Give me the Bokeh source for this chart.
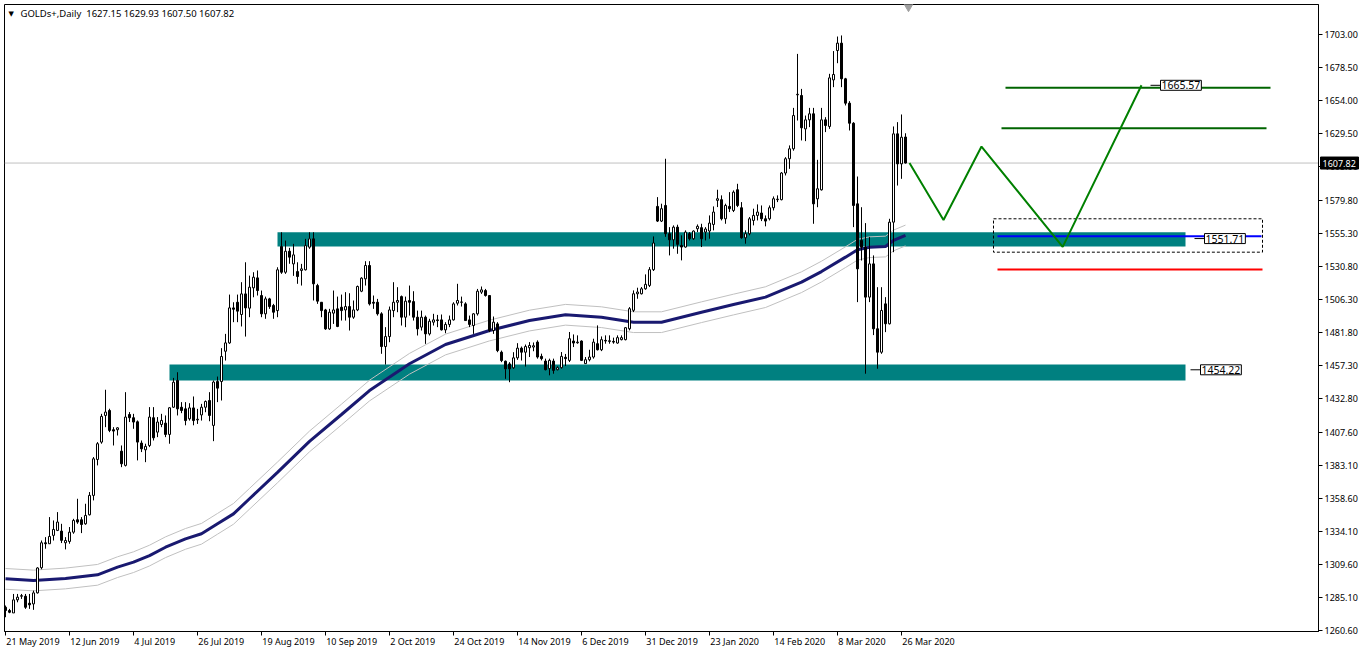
from bokeh.plotting import figure
from bokeh.models import Range1d, FixedTicker, NumeralTickFormatter, Span, Label, ColumnDataSource
from bokeh.embed import file_html
from bokeh.resources import INLINE
from bokeh.core.properties import value

FONT = "Noto Sans"

# ---------------- data (daily OHLC, bar index 0 = 21 May 2019) ----------------
open_ = [
    1277.8, 1275.4, 1273.6, 1283.3, 1286.0, 1286.0, 1280.8, 1280.3, 1288.5, 1307.2,
    1325.7, 1325.0, 1331.2, 1334.9, 1334.4, 1325.7, 1326.7, 1333.6, 1342.8, 1342.8,
    1339.8, 1346.5, 1360.9, 1387.6, 1400.5, 1420.3, 1424.0, 1409.7, 1409.7, 1393.8,
    1383.2, 1421.0, 1418.6, 1415.6, 1399.8, 1394.8, 1398.0, 1418.6, 1407.9, 1413.6,
    1414.6, 1406.2, 1426.4, 1446.3, 1426.4, 1425.2, 1417.8, 1425.9, 1417.0, 1420.7,
    1426.4, 1431.4, 1412.9, 1445.5, 1445.5, 1468.0, 1474.2, 1500.2, 1504.4, 1495.3,
    1510.6, 1500.0, 1515.1, 1522.5, 1509.4, 1495.8, 1506.9, 1502.0, 1498.2, 1545.8,
    1526.7, 1542.3, 1532.9, 1527.2, 1528.0, 1528.5, 1545.3, 1551.5, 1516.8, 1504.4,
    1498.7, 1484.6, 1496.3, 1499.5, 1500.7, 1498.7, 1501.2, 1493.3, 1498.7, 1512.6,
    1521.8, 1531.7, 1504.4, 1504.4, 1495.8, 1471.5, 1478.9, 1498.2, 1504.4, 1508.6,
    1493.3, 1505.7, 1504.9, 1493.3, 1485.9, 1493.3, 1480.9, 1489.6, 1491.3, 1491.3,
    1483.9, 1487.9, 1491.3, 1503.7, 1504.4, 1503.2, 1491.3, 1487.1, 1495.8, 1511.9,
    1513.1, 1509.4, 1483.4, 1488.3, 1467.3, 1460.6, 1458.6, 1455.7, 1463.1, 1470.3,
    1467.3, 1470.6, 1471.1, 1474.8, 1464.2, 1460.7, 1455.1, 1460.7, 1454.3, 1455.8,
    1463.5, 1461.2, 1475.6, 1474.3, 1475.6, 1458.8, 1461.7, 1463.7, 1473.6, 1469.1,
    1476.1, 1475.3, 1475.3, 1474.1, 1476.6, 1476.6, 1484.7, 1498.4, 1510.7, 1510.7,
    1514.4, 1516.9, 1528.6, 1575.6, 1564.7, 1576.3, 1555.3, 1550.8, 1560.2, 1546.6,
    1545.4, 1555.3, 1551.6, 1559.0, 1559.8, 1556.5, 1557.3, 1562.2, 1580.1, 1580.6,
    1566.4, 1575.6, 1572.6, 1588.0, 1574.6, 1552.3, 1555.3, 1565.2, 1568.9, 1570.7,
    1566.4, 1566.4, 1574.6, 1580.6, 1580.6, 1600.4, 1611.0, 1618.4, 1658.5, 1658.0,
    1633.2, 1639.9, 1644.4, 1581.2, 1587.9, 1639.9, 1635.0, 1669.6, 1691.4, 1696.9,
    1670.4, 1652.3, 1637.4, 1577.5, 1550.3, 1545.3, 1508.2, 1532.9, 1484.7, 1467.3,
    1503.2, 1488.4, 1563.9, 1629.5, 1607.2, 1627.15,
]
high = [
    1279.1, 1276.6, 1287.7, 1287.7, 1287.7, 1287.7, 1287.7, 1290.2, 1307.5, 1327.4,
    1329.9, 1344.8, 1342.3, 1348.5, 1339.8, 1329.9, 1337.4, 1343.5, 1358.4, 1344.8,
    1354.7, 1363.4, 1389.4, 1400.5, 1421.5, 1439.4, 1425.3, 1411.6, 1411.6, 1398.0,
    1437.6, 1422.8, 1421.5, 1416.6, 1401.7, 1399.3, 1426.5, 1426.5, 1419.1, 1421.5,
    1420.3, 1426.5, 1448.2, 1452.4, 1430.2, 1430.2, 1429.4, 1434.4, 1425.2, 1428.9,
    1431.4, 1437.6, 1446.3, 1449.2, 1470.3, 1480.9, 1510.1, 1504.4, 1510.1, 1519.3,
    1534.1, 1524.2, 1526.7, 1528.0, 1513.1, 1508.6, 1507.7, 1503.2, 1530.4, 1556.4,
    1550.2, 1544.8, 1547.8, 1534.1, 1532.9, 1551.5, 1556.4, 1556.4, 1518.1, 1504.4,
    1499.5, 1499.5, 1513.1, 1508.6, 1510.1, 1511.9, 1511.1, 1505.7, 1516.8, 1523.0,
    1534.9, 1534.9, 1509.4, 1506.9, 1497.0, 1485.9, 1501.2, 1519.3, 1515.6, 1509.4,
    1508.6, 1516.8, 1512.6, 1498.2, 1498.2, 1494.5, 1492.1, 1495.8, 1495.0, 1495.3,
    1489.6, 1494.5, 1504.4, 1518.1, 1508.6, 1504.4, 1494.5, 1496.3, 1514.3, 1516.1,
    1514.3, 1509.4, 1493.8, 1489.6, 1468.5, 1461.1, 1459.9, 1467.3, 1474.0, 1471.5,
    1473.0, 1474.8, 1474.5, 1476.1, 1466.2, 1462.5, 1462.5, 1462.5, 1456.8, 1467.4,
    1466.0, 1482.3, 1480.5, 1479.8, 1476.1, 1463.7, 1469.1, 1477.3, 1487.2, 1479.0,
    1479.8, 1479.8, 1478.1, 1479.8, 1479.8, 1486.0, 1500.8, 1513.2, 1515.2, 1515.7,
    1525.1, 1530.5, 1553.3, 1582.5, 1577.6, 1611.0, 1560.2, 1561.5, 1562.0, 1554.1,
    1557.8, 1556.5, 1557.8, 1562.2, 1562.7, 1560.2, 1568.9, 1575.6, 1588.0, 1583.8,
    1577.6, 1586.2, 1587.5, 1592.4, 1578.8, 1557.8, 1567.7, 1573.9, 1577.1, 1576.3,
    1568.9, 1576.3, 1583.0, 1583.8, 1601.1, 1612.2, 1620.9, 1648.8, 1688.9, 1662.9,
    1643.1, 1648.8, 1648.8, 1610.2, 1648.8, 1641.9, 1674.1, 1691.0, 1701.8, 1702.6,
    1671.1, 1653.8, 1638.2, 1597.8, 1575.0, 1563.2, 1552.8, 1539.2, 1515.6, 1515.6,
    1508.2, 1566.4, 1635.0, 1638.2, 1643.9, 1629.93,
]
low = [
    1270.4, 1273.4, 1273.6, 1281.5, 1284.0, 1276.6, 1276.6, 1275.9, 1288.0, 1306.0,
    1321.3, 1325.0, 1327.4, 1334.4, 1325.5, 1320.8, 1325.0, 1332.4, 1339.8, 1332.9,
    1339.1, 1346.0, 1357.2, 1383.2, 1399.3, 1411.6, 1407.9, 1398.0, 1405.4, 1381.9,
    1382.4, 1415.4, 1410.4, 1386.9, 1393.1, 1385.6, 1396.8, 1401.7, 1404.2, 1411.6,
    1404.2, 1399.3, 1426.0, 1420.3, 1422.0, 1413.0, 1416.5, 1413.0, 1414.0, 1416.5,
    1422.7, 1416.0, 1401.2, 1430.2, 1431.4, 1461.1, 1473.5, 1489.6, 1489.6, 1486.4,
    1478.9, 1493.3, 1508.1, 1509.4, 1493.3, 1492.1, 1499.5, 1492.1, 1493.3, 1525.5,
    1525.5, 1533.0, 1524.0, 1518.1, 1516.8, 1528.0, 1544.1, 1505.7, 1503.2, 1493.3,
    1483.9, 1483.9, 1488.3, 1485.9, 1490.8, 1490.8, 1483.4, 1492.1, 1497.8, 1511.9,
    1516.8, 1502.0, 1499.5, 1494.5, 1466.1, 1458.1, 1474.7, 1493.3, 1497.0, 1487.1,
    1485.9, 1494.5, 1490.8, 1479.7, 1483.4, 1473.5, 1479.7, 1487.1, 1485.9, 1483.4,
    1481.4, 1485.9, 1490.8, 1502.0, 1501.2, 1490.8, 1485.9, 1480.9, 1494.5, 1510.6,
    1508.6, 1482.2, 1480.9, 1467.3, 1459.9, 1447.5, 1445.0, 1454.9, 1461.6, 1461.1,
    1456.6, 1463.7, 1468.0, 1462.5, 1461.2, 1453.8, 1450.1, 1451.3, 1453.8, 1455.1,
    1457.0, 1460.0, 1471.1, 1473.6, 1460.7, 1458.8, 1460.5, 1462.5, 1468.6, 1468.1,
    1473.6, 1473.6, 1473.6, 1473.6, 1476.1, 1476.1, 1483.5, 1497.1, 1507.0, 1510.2,
    1513.7, 1515.7, 1527.6, 1564.0, 1564.0, 1553.0, 1539.2, 1544.2, 1540.4, 1535.5,
    1545.0, 1550.3, 1550.8, 1556.5, 1545.4, 1550.3, 1551.6, 1557.8, 1575.1, 1565.2,
    1562.7, 1571.4, 1571.4, 1575.1, 1551.6, 1547.9, 1554.1, 1561.5, 1565.2, 1564.7,
    1560.8, 1565.2, 1572.6, 1578.8, 1580.1, 1598.6, 1603.5, 1617.0, 1639.4, 1624.6,
    1624.1, 1634.5, 1562.7, 1575.0, 1587.4, 1630.8, 1633.2, 1664.2, 1682.0, 1664.2,
    1650.6, 1632.0, 1560.2, 1504.5, 1535.4, 1451.3, 1504.5, 1480.0, 1455.0, 1466.1,
    1482.2, 1487.9, 1541.6, 1591.1, 1596.1, 1607.50,
]
close = [
    1275.4, 1274.1, 1283.3, 1285.3, 1286.4, 1277.8, 1279.6, 1288.5, 1307.0, 1325.7,
    1325.0, 1330.4, 1335.6, 1341.1, 1327.5, 1327.4, 1333.6, 1342.3, 1341.1, 1339.3,
    1346.0, 1360.9, 1388.1, 1399.3, 1419.6, 1422.8, 1409.2, 1408.7, 1411.1, 1384.4,
    1419.1, 1418.6, 1415.4, 1400.5, 1395.5, 1397.3, 1419.1, 1403.7, 1415.4, 1416.6,
    1406.2, 1426.0, 1445.0, 1425.2, 1424.0, 1416.5, 1425.9, 1416.5, 1417.5, 1426.4,
    1430.7, 1420.3, 1445.1, 1440.6, 1464.1, 1474.2, 1500.2, 1499.2, 1497.8, 1510.6,
    1500.2, 1515.6, 1523.0, 1513.1, 1495.8, 1506.9, 1501.2, 1497.0, 1528.5, 1526.7,
    1542.3, 1537.9, 1539.6, 1523.5, 1529.2, 1546.5, 1551.5, 1518.1, 1505.2, 1498.2,
    1484.6, 1497.0, 1498.7, 1486.4, 1498.2, 1501.2, 1493.3, 1498.7, 1516.1, 1522.3,
    1531.7, 1503.2, 1503.7, 1495.8, 1471.5, 1478.9, 1498.7, 1504.4, 1505.7, 1493.3,
    1505.2, 1504.4, 1493.3, 1484.6, 1493.3, 1480.9, 1490.3, 1491.3, 1490.8, 1483.9,
    1487.9, 1491.3, 1503.2, 1505.7, 1504.6, 1490.8, 1487.9, 1495.8, 1512.6, 1513.6,
    1509.4, 1483.4, 1489.6, 1468.5, 1461.1, 1454.9, 1454.9, 1463.1, 1470.3, 1467.3,
    1471.5, 1472.3, 1472.1, 1463.7, 1462.5, 1454.3, 1461.2, 1453.8, 1455.8, 1464.2,
    1462.5, 1477.3, 1474.1, 1474.8, 1461.2, 1461.7, 1463.7, 1474.8, 1469.1, 1476.6,
    1475.6, 1475.8, 1474.8, 1478.1, 1478.1, 1485.5, 1499.6, 1510.7, 1512.0, 1514.4,
    1517.7, 1528.6, 1548.4, 1564.7, 1573.9, 1555.3, 1550.8, 1560.2, 1547.4, 1545.4,
    1556.5, 1551.6, 1557.3, 1560.8, 1551.6, 1558.8, 1563.2, 1571.4, 1581.3, 1566.4,
    1576.3, 1573.9, 1586.2, 1576.3, 1552.3, 1555.3, 1566.4, 1568.9, 1571.4, 1566.4,
    1564.7, 1574.6, 1581.3, 1581.0, 1600.4, 1611.0, 1618.4, 1643.1, 1658.9, 1634.0,
    1639.9, 1644.4, 1577.5, 1588.7, 1639.9, 1635.7, 1671.1, 1673.6, 1696.9, 1670.4,
    1652.3, 1637.4, 1576.3, 1529.2, 1545.3, 1508.2, 1532.9, 1484.7, 1467.3, 1498.3,
    1488.4, 1563.9, 1629.5, 1607.2, 1627.0, 1607.82,
]

# moving average (navy) and its envelope (silver), read at selected bars
ma_bar = [0, 7, 15, 23, 28, 32, 36, 40, 45, 49, 53, 57, 61, 68, 76, 84, 91, 101, 110, 121,
          131, 140, 149, 157, 164, 174, 182, 190, 199, 204, 210, 213, 216, 220, 222, 225]
ma_val = [1298.9, 1297.7, 1299.2, 1301.9, 1307.6, 1311.3, 1316.2, 1322.4, 1328.6, 1332.4,
          1339.8, 1347.2, 1358.4, 1378.0, 1401.0, 1421.0, 1438.8, 1458.7, 1473.0, 1483.4,
          1490.8, 1495.1, 1493.3, 1489.6, 1489.6, 1497.0, 1502.7, 1508.2, 1519.3, 1527.2,
          1537.9, 1543.4, 1545.3, 1545.8, 1550.3, 1554.0]
env_upper = [1306.6, 1305.4, 1306.9, 1309.6, 1315.3, 1319.0, 1323.9, 1330.1, 1336.3, 1340.1,
             1347.5, 1354.9, 1366.1, 1385.7, 1408.7, 1428.7, 1446.5, 1466.4, 1480.7, 1491.1,
             1498.5, 1502.8, 1501.0, 1497.3, 1497.3, 1504.7, 1510.4, 1515.9, 1527.0, 1534.9,
             1545.6, 1551.1, 1553.0, 1553.5, 1558.0, 1561.7]
env_lower = [1291.2, 1290.0, 1291.5, 1294.2, 1299.9, 1303.6, 1308.5, 1314.7, 1320.9, 1324.7,
             1332.1, 1339.5, 1350.7, 1370.3, 1393.3, 1413.3, 1431.1, 1451.0, 1465.3, 1475.7,
             1483.1, 1487.4, 1485.6, 1481.9, 1481.9, 1489.3, 1495.0, 1500.5, 1511.6, 1519.5,
             1530.2, 1535.7, 1537.6, 1538.1, 1542.6, 1546.3]

# support / resistance zones
zone_left = [68, 41]
zone_right = [295, 295]
zone_bottom = [1545.8, 1446.3]
zone_top = [1556.4, 1458.2]

# projected path (green zigzag)
path_bar = [226, 234.5, 244, 264.3, 284]
path_price = [1607.82, 1565.5, 1620.1, 1545.5, 1665.57]

# horizontal levels
tp_levels = [1663.7, 1633.7]
tp_left = [250, 249]
tp_right = [316.25, 315.25]
entry_level = 1553.5
stop_level = 1528.7
box_bottom, box_top = 1541.6, 1566.4

last_price = 1607.82
price_tags = [1665.57, 1551.71, 1454.22]

price_ticks = [1703.00, 1678.50, 1654.00, 1629.50, 1605.00, 1579.80, 1555.30, 1530.80,
               1506.30, 1481.80, 1457.30, 1432.80, 1407.60, 1383.10, 1358.60, 1334.10,
               1309.60, 1285.10, 1260.60]
date_ticks = [0, 16, 32, 48, 64, 80, 96, 112, 128, 144, 160, 176, 192, 208, 224]
date_labels = ["21 May 2019", "12 Jun 2019", "4 Jul 2019", "26 Jul 2019", "19 Aug 2019",
               "10 Sep 2019", "2 Oct 2019", "24 Oct 2019", "14 Nov 2019", "6 Dec 2019",
               "31 Dec 2019", "23 Jan 2020", "14 Feb 2020", "8 Mar 2020", "26 Mar 2020"]

# ---------------- figure ----------------
X0, X1 = -0.25, 328.25          # 4 px per bar over a 1314 px frame
Y0, Y1 = 1259.8, 1725.6
FW, FH = 1314, 627
PX_PER_BAR = FW / (X1 - X0)
PX_PER_PRICE = FH / (Y1 - Y0)

n = len(open_)
bars = list(range(n))
up = [i for i in bars if close[i] >= open_[i]]
dn = [i for i in bars if close[i] < open_[i]]

p = figure(frame_width=FW, frame_height=FH,
           x_range=Range1d(X0, X1), y_range=Range1d(Y0, Y1),
           y_axis_location="right", output_backend="svg", toolbar_location=None,
           min_border_left=4, min_border_top=4, min_border_right=0, min_border_bottom=0,
           background_fill_color="white", border_fill_color="white")
p.xgrid.visible = False
p.ygrid.visible = False
p.outline_line_color = "black"
p.outline_line_width = 1

# price axis
p.yaxis.ticker = FixedTicker(ticks=price_ticks)
p.yaxis.formatter = NumeralTickFormatter(format="0.00")
p.yaxis.major_tick_out = 4
p.yaxis.major_tick_in = 0
p.yaxis.minor_tick_out = 0
p.yaxis.minor_tick_in = 0
p.yaxis.major_label_standoff = 2
p.yaxis.axis_line_color = "black"
p.yaxis.major_label_text_font = FONT
p.yaxis.major_label_text_font_size = "9px"
p.yaxis.major_label_text_color = "black"

# date axis: tick marks (minor ticks) at the bars, labels left-aligned after each mark
CW = {' ': 0.26, 'A': 0.639, 'D': 0.734, 'F': 0.525, 'J': 0.29, 'M': 0.907, 'N': 0.761,
      'O': 0.779, 'S': 0.521, 'a': 0.561, 'b': 0.613, 'c': 0.48, 'e': 0.561, 'g': 0.613,
      'l': 0.258, 'n': 0.613, 'o': 0.603, 'p': 0.613, 'r': 0.408, 't': 0.353, 'u': 0.613,
      'v': 0.5, 'y': 0.5}


def text_px(s, size=9.0):
    return sum(CW.get(c, 0.572) for c in s) * size


label_pos = [round(b + 0.2 + text_px(t) / 2 / PX_PER_BAR, 3) for b, t in zip(date_ticks, date_labels)]
p.xaxis.ticker = FixedTicker(ticks=label_pos, minor_ticks=date_ticks)
p.xaxis.major_label_overrides = {k: t for k, t in zip(label_pos, date_labels)}
p.xaxis.major_tick_out = 0
p.xaxis.major_tick_in = 0
p.xaxis.minor_tick_out = 4
p.xaxis.minor_tick_in = 0
p.xaxis.minor_tick_line_color = "black"
p.xaxis.major_label_standoff = -1
p.xaxis.axis_line_color = "black"
p.xaxis.major_label_text_font = FONT
p.xaxis.major_label_text_font_size = "9px"
p.xaxis.major_label_text_color = "black"

# last price line
p.add_layout(Span(location=last_price, dimension="width", line_color="#C0C0C0",
                  line_width=1, level="underlay"))

# zones
p.quad(left=zone_left, right=zone_right, bottom=zone_bottom, top=zone_top,
       fill_color="#008080", line_color=None)

# moving average + envelope
p.line(ma_bar, env_upper, line_color="#C0C0C0", line_width=1)
p.line(ma_bar, env_lower, line_color="#C0C0C0", line_width=1)
p.line(ma_bar, ma_val, line_color="#191970", line_width=3)

# candles
p.segment(x0=bars, y0=low, x1=bars, y1=high, line_color="black", line_width=1)
src_up = ColumnDataSource(dict(x=up, top=[close[i] for i in up], bottom=[open_[i] for i in up]))
src_dn = ColumnDataSource(dict(x=dn, top=[open_[i] for i in dn], bottom=[close[i] for i in dn]))
p.vbar(x="x", top="top", bottom="bottom", width=0.5, source=src_up,
       fill_color="white", line_color="black", line_width=1)
p.vbar(x="x", top="top", bottom="bottom", width=0.5, source=src_dn,
       fill_color="black", line_color="black", line_width=1)

# levels
p.segment(x0=tp_left, y0=tp_levels, x1=tp_right, y1=tp_levels, line_color="#006400", line_width=2)
p.segment(x0=[248], y0=[entry_level], x1=[314], y1=[entry_level], line_color="#0000FF", line_width=2)
p.segment(x0=[248], y0=[stop_level], x1=[314.25], y1=[stop_level], line_color="#FF0000", line_width=2)
p.quad(left=[247], right=[314.25], bottom=[box_bottom], top=[box_top], fill_color=None,
       line_color="black", line_width=1, line_dash="3 2")

# projected path
p.line(path_bar, path_price, line_color="#008000", line_width=2)

# price tags
tag_line_x0 = [286.25, 297.25, 296.25]
tag_line_x1 = [288.75, 299.75, 298.75]
p.segment(x0=tag_line_x0, y0=price_tags, x1=tag_line_x1, y1=price_tags, line_color="black", line_width=1)
for x1, v in zip(tag_line_x1, price_tags):
    p.add_layout(Label(x=x1, y=v, text=f"{v:.2f}", text_baseline="middle", text_align="left",
                       text_font=FONT, text_font_size="10.5px", text_color="black",
                       background_fill_color="white", border_line_color="black",
                       border_line_width=1, padding=1))

# current price tag on the price axis (drawn above the axis)
tag_x0 = X1 + 2 / PX_PER_BAR
tag_x1 = X1 + 40 / PX_PER_BAR
tag_h = 6 / PX_PER_PRICE
p.quad(left=[tag_x0], right=[tag_x1], bottom=[last_price - tag_h], top=[last_price + tag_h],
       fill_color="black", line_color="black", level="overlay")
p.text(x=[X1 + 4 / PX_PER_BAR], y=[last_price], text=[f"{last_price:.2f}"],
       text_baseline="middle", text_align="left", text_font=value(FONT),
       text_font_size="9px", text_color="white", level="overlay")

# header
p.add_layout(Label(x=0.75, y=1718.9, text="\u25BC", text_baseline="middle", text_align="left",
                   text_font="DejaVu Sans", text_font_size="7px", text_color="black"))
p.add_layout(Label(x=3.75, y=1718.9,
                   text="GOLDs+,Daily\u00a0\u00a01627.15 1629.93 1607.50 1607.82",
                   text_baseline="middle", text_align="left", text_font=FONT,
                   text_font_size="9.5px", text_color="black"))
# chart shift marker at the top edge
p.scatter(x=[225.75], y=[Y1 - 2 / PX_PER_PRICE], marker="inverted_triangle", size=9,
          fill_color="#A0A0A0", line_color="#A0A0A0")

open("out.html", "w").write(file_html(p, INLINE))
